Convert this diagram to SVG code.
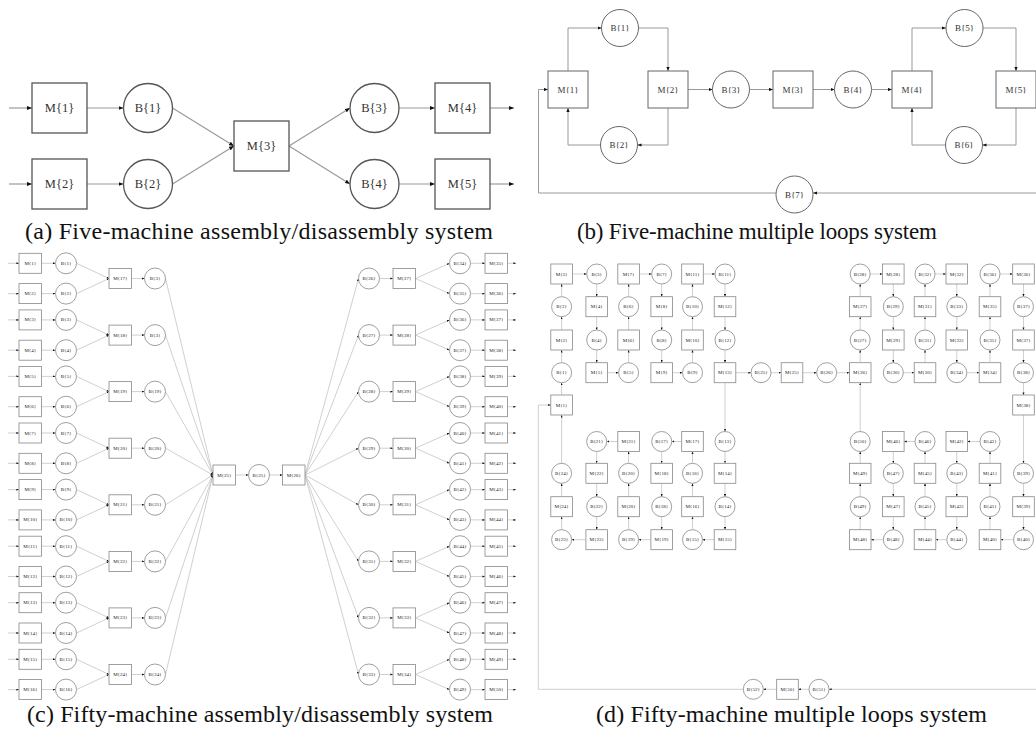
<svg xmlns="http://www.w3.org/2000/svg" width="1036" height="742" viewBox="0 0 1036 742">
<style>
text{font-family:"Liberation Serif","DejaVu Serif",serif;text-anchor:middle;dominant-baseline:central;fill:#333}
.ta{font-size:12.5px}
.tb{font-size:9px}
.tc{font-size:5px;fill:#222}
.cap{font-size:24px;fill:#111;text-anchor:start;dominant-baseline:alphabetic}
.capb{font-size:23px}
.ma{fill:#fff;stroke:#555;stroke-width:1.3}
.mb{fill:#fff;stroke:#666;stroke-width:1}
.mc{fill:#fff;stroke:#888;stroke-width:0.8}
.la{stroke:#9a9a9a;stroke-width:1.2;fill:none;marker-end:url(#ka)}
.lb{stroke:#999;stroke-width:1;fill:none;marker-end:url(#kb)}
.lc{stroke:#bbb;stroke-width:0.7;fill:none;marker-end:url(#kc)}
</style>
<defs>
<marker id="ka" viewBox="0 0 10 8" refX="10" refY="4" markerWidth="5" markerHeight="4" markerUnits="userSpaceOnUse" orient="auto"><path d="M0,0L10,4L0,8z" fill="#111"/></marker>
<marker id="kb" viewBox="0 0 10 8" refX="10" refY="4" markerWidth="4" markerHeight="3.2" markerUnits="userSpaceOnUse" orient="auto"><path d="M0,0L10,4L0,8z" fill="#111"/></marker>
<marker id="kc" viewBox="0 0 10 8" refX="10" refY="4" markerWidth="2.6" markerHeight="2.1" markerUnits="userSpaceOnUse" orient="auto"><path d="M0,0L10,4L0,8z" fill="#111"/></marker>
</defs>
<rect width="1036" height="742" fill="#fff"/>

<!-- ===== Panel (a) ===== -->
<g id="a-connectors">
<line class="la" x1="9" y1="108" x2="32" y2="108"/>
<line class="la" x1="9" y1="184" x2="32" y2="184"/>
<line class="la" x1="87" y1="108" x2="123.5" y2="108"/>
<line class="la" x1="87" y1="184" x2="123.5" y2="184"/>
<line class="la" x1="172.5" y1="108" x2="234" y2="146"/>
<line class="la" x1="172.5" y1="184" x2="234" y2="146"/>
<line class="la" x1="289" y1="146" x2="350" y2="108"/>
<line class="la" x1="289" y1="146" x2="350" y2="184"/>
<line class="la" x1="399" y1="108" x2="435" y2="108"/>
<line class="la" x1="399" y1="184" x2="435" y2="184"/>
<line class="la" x1="490" y1="108" x2="514" y2="108"/>
<line class="la" x1="490" y1="184" x2="514" y2="184"/>
</g>
<g id="a-M1" transform="translate(59.5,108)"><rect class="ma" x="-27.5" y="-25" width="55" height="50"/><text class="ta">M{1}</text></g>
<g id="a-M2" transform="translate(59.5,184)"><rect class="ma" x="-27.5" y="-25" width="55" height="50"/><text class="ta">M{2}</text></g>
<g id="a-B1" transform="translate(148,108)"><circle class="ma" r="24.5"/><text class="ta">B{1}</text></g>
<g id="a-B2" transform="translate(148,184)"><circle class="ma" r="24.5"/><text class="ta">B{2}</text></g>
<g id="a-M3" transform="translate(261.5,146)"><rect class="ma" x="-27.5" y="-25" width="55" height="50"/><text class="ta">M{3}</text></g>
<g id="a-B3" transform="translate(374.5,108)"><circle class="ma" r="24.5"/><text class="ta">B{3}</text></g>
<g id="a-B4" transform="translate(374.5,184)"><circle class="ma" r="24.5"/><text class="ta">B{4}</text></g>
<g id="a-M4" transform="translate(462.5,108)"><rect class="ma" x="-27.5" y="-25" width="55" height="50"/><text class="ta">M{4}</text></g>
<g id="a-M5" transform="translate(462.5,184)"><rect class="ma" x="-27.5" y="-25" width="55" height="50"/><text class="ta">M{5}</text></g>
<text class="cap" x="25" y="239" textLength="468" lengthAdjust="spacing">(a) Five-machine assembly/disassembly system</text>

<!-- ===== Panel (b) ===== -->
<g id="b-connectors">
<path class="lb" d="M568,71V28H601.5"/>
<path class="lb" d="M638.5,28H668V71"/>
<path class="lb" d="M668,108V145H637.5"/>
<path class="lb" d="M600.5,145H568V108"/>
<line class="lb" x1="688" y1="89.5" x2="712.5" y2="89.5"/>
<line class="lb" x1="749.5" y1="89.5" x2="773" y2="89.5"/>
<line class="lb" x1="813" y1="89.5" x2="834.5" y2="89.5"/>
<line class="lb" x1="871.5" y1="89.5" x2="892" y2="89.5"/>
<path class="lb" d="M912,71V28H946"/>
<path class="lb" d="M983,28H1016V71"/>
<path class="lb" d="M1016,108V145H982.5"/>
<path class="lb" d="M945.5,145H912V108"/>
<line class="lb" x1="1036" y1="193" x2="813" y2="193"/>
<path class="lb" d="M776,193H538.5V89.5H548"/>
</g>
<g id="b-M1" transform="translate(568,89.5)"><rect class="mb" x="-20" y="-18.5" width="40" height="37"/><text class="tb">M{1}</text></g>
<g id="b-B1" transform="translate(620,28)"><circle class="mb" r="18.5"/><text class="tb">B{1}</text></g>
<g id="b-B2" transform="translate(619,145)"><circle class="mb" r="18.5"/><text class="tb">B{2}</text></g>
<g id="b-M2" transform="translate(668,89.5)"><rect class="mb" x="-20" y="-18.5" width="40" height="37"/><text class="tb">M{2}</text></g>
<g id="b-B3" transform="translate(731,89.5)"><circle class="mb" r="18.5"/><text class="tb">B{3}</text></g>
<g id="b-M3" transform="translate(793,89.5)"><rect class="mb" x="-20" y="-18.5" width="40" height="37"/><text class="tb">M{3}</text></g>
<g id="b-B4" transform="translate(853,89.5)"><circle class="mb" r="18.5"/><text class="tb">B{4}</text></g>
<g id="b-M4" transform="translate(912,89.5)"><rect class="mb" x="-20" y="-18.5" width="40" height="37"/><text class="tb">M{4}</text></g>
<g id="b-B5" transform="translate(964.5,28)"><circle class="mb" r="18.5"/><text class="tb">B{5}</text></g>
<g id="b-B6" transform="translate(964,145)"><circle class="mb" r="18.5"/><text class="tb">B{6}</text></g>
<g id="b-M5" transform="translate(1016,89.5)"><rect class="mb" x="-20" y="-18.5" width="40" height="37"/><text class="tb">M{5}</text></g>
<g id="b-B7" transform="translate(794.5,194.5)"><circle class="mb" r="18.5"/><text class="tb">B{7}</text></g>
<text class="cap capb" x="577" y="239" textLength="360" lengthAdjust="spacing">(b) Five-machine multiple loops system</text>

<!-- ===== Panel (c) ===== -->
<g id="c-connectors">
<line class="lc" x1="8" y1="263.3" x2="19" y2="263.3"/><line class="lc" x1="8" y1="293.6" x2="19" y2="293.6"/>
<line class="lc" x1="41.5" y1="263.3" x2="55.5" y2="263.3"/><line class="lc" x1="41.5" y1="293.6" x2="55.5" y2="293.6"/>
<line class="lc" x1="76.5" y1="263.3" x2="109" y2="278.5"/><line class="lc" x1="76.5" y1="293.6" x2="109" y2="278.5"/>
<line class="lc" x1="131.5" y1="278.5" x2="144.5" y2="278.5"/><line class="lc" x1="165.5" y1="278.5" x2="213" y2="475"/>
<line class="lc" x1="305" y1="475" x2="358.5" y2="278.5"/><line class="lc" x1="379.5" y1="278.5" x2="393" y2="278.5"/>
<line class="lc" x1="415.5" y1="278.5" x2="449.5" y2="263.3"/><line class="lc" x1="415.5" y1="278.5" x2="449.5" y2="293.6"/>
<line class="lc" x1="470.5" y1="263.3" x2="485" y2="263.3"/><line class="lc" x1="470.5" y1="293.6" x2="485" y2="293.6"/>
<line class="lc" x1="507.5" y1="263.3" x2="516" y2="263.3"/><line class="lc" x1="507.5" y1="293.6" x2="516" y2="293.6"/>
<line class="lc" x1="8" y1="319.9" x2="19" y2="319.9"/><line class="lc" x1="8" y1="350.2" x2="19" y2="350.2"/>
<line class="lc" x1="41.5" y1="319.9" x2="55.5" y2="319.9"/><line class="lc" x1="41.5" y1="350.2" x2="55.5" y2="350.2"/>
<line class="lc" x1="76.5" y1="319.9" x2="109" y2="335.1"/><line class="lc" x1="76.5" y1="350.2" x2="109" y2="335.1"/>
<line class="lc" x1="131.5" y1="335.1" x2="144.5" y2="335.1"/><line class="lc" x1="165.5" y1="335.1" x2="213" y2="475"/>
<line class="lc" x1="305" y1="475" x2="358.5" y2="335.1"/><line class="lc" x1="379.5" y1="335.1" x2="393" y2="335.1"/>
<line class="lc" x1="415.5" y1="335.1" x2="449.5" y2="319.9"/><line class="lc" x1="415.5" y1="335.1" x2="449.5" y2="350.2"/>
<line class="lc" x1="470.5" y1="319.9" x2="485" y2="319.9"/><line class="lc" x1="470.5" y1="350.2" x2="485" y2="350.2"/>
<line class="lc" x1="507.5" y1="319.9" x2="516" y2="319.9"/><line class="lc" x1="507.5" y1="350.2" x2="516" y2="350.2"/>
<line class="lc" x1="8" y1="376.4" x2="19" y2="376.4"/><line class="lc" x1="8" y1="406.7" x2="19" y2="406.7"/>
<line class="lc" x1="41.5" y1="376.4" x2="55.5" y2="376.4"/><line class="lc" x1="41.5" y1="406.7" x2="55.5" y2="406.7"/>
<line class="lc" x1="76.5" y1="376.4" x2="109" y2="391.6"/><line class="lc" x1="76.5" y1="406.7" x2="109" y2="391.6"/>
<line class="lc" x1="131.5" y1="391.6" x2="144.5" y2="391.6"/><line class="lc" x1="165.5" y1="391.6" x2="213" y2="475"/>
<line class="lc" x1="305" y1="475" x2="358.5" y2="391.6"/><line class="lc" x1="379.5" y1="391.6" x2="393" y2="391.6"/>
<line class="lc" x1="415.5" y1="391.6" x2="449.5" y2="376.4"/><line class="lc" x1="415.5" y1="391.6" x2="449.5" y2="406.7"/>
<line class="lc" x1="470.5" y1="376.4" x2="485" y2="376.4"/><line class="lc" x1="470.5" y1="406.7" x2="485" y2="406.7"/>
<line class="lc" x1="507.5" y1="376.4" x2="516" y2="376.4"/><line class="lc" x1="507.5" y1="406.7" x2="516" y2="406.7"/>
<line class="lc" x1="8" y1="433" x2="19" y2="433"/><line class="lc" x1="8" y1="463.3" x2="19" y2="463.3"/>
<line class="lc" x1="41.5" y1="433" x2="55.5" y2="433"/><line class="lc" x1="41.5" y1="463.3" x2="55.5" y2="463.3"/>
<line class="lc" x1="76.5" y1="433" x2="109" y2="448.2"/><line class="lc" x1="76.5" y1="463.3" x2="109" y2="448.2"/>
<line class="lc" x1="131.5" y1="448.2" x2="144.5" y2="448.2"/><line class="lc" x1="165.5" y1="448.2" x2="213" y2="475"/>
<line class="lc" x1="305" y1="475" x2="358.5" y2="448.2"/><line class="lc" x1="379.5" y1="448.2" x2="393" y2="448.2"/>
<line class="lc" x1="415.5" y1="448.2" x2="449.5" y2="433"/><line class="lc" x1="415.5" y1="448.2" x2="449.5" y2="463.3"/>
<line class="lc" x1="470.5" y1="433" x2="485" y2="433"/><line class="lc" x1="470.5" y1="463.3" x2="485" y2="463.3"/>
<line class="lc" x1="507.5" y1="433" x2="516" y2="433"/><line class="lc" x1="507.5" y1="463.3" x2="516" y2="463.3"/>
<line class="lc" x1="8" y1="489.6" x2="19" y2="489.6"/><line class="lc" x1="8" y1="519.9" x2="19" y2="519.9"/>
<line class="lc" x1="41.5" y1="489.6" x2="55.5" y2="489.6"/><line class="lc" x1="41.5" y1="519.9" x2="55.5" y2="519.9"/>
<line class="lc" x1="76.5" y1="489.6" x2="109" y2="504.8"/><line class="lc" x1="76.5" y1="519.9" x2="109" y2="504.8"/>
<line class="lc" x1="131.5" y1="504.8" x2="144.5" y2="504.8"/><line class="lc" x1="165.5" y1="504.8" x2="213" y2="475"/>
<line class="lc" x1="305" y1="475" x2="358.5" y2="504.8"/><line class="lc" x1="379.5" y1="504.8" x2="393" y2="504.8"/>
<line class="lc" x1="415.5" y1="504.8" x2="449.5" y2="489.6"/><line class="lc" x1="415.5" y1="504.8" x2="449.5" y2="519.9"/>
<line class="lc" x1="470.5" y1="489.6" x2="485" y2="489.6"/><line class="lc" x1="470.5" y1="519.9" x2="485" y2="519.9"/>
<line class="lc" x1="507.5" y1="489.6" x2="516" y2="489.6"/><line class="lc" x1="507.5" y1="519.9" x2="516" y2="519.9"/>
<line class="lc" x1="8" y1="546.2" x2="19" y2="546.2"/><line class="lc" x1="8" y1="576.5" x2="19" y2="576.5"/>
<line class="lc" x1="41.5" y1="546.2" x2="55.5" y2="546.2"/><line class="lc" x1="41.5" y1="576.5" x2="55.5" y2="576.5"/>
<line class="lc" x1="76.5" y1="546.2" x2="109" y2="561.4"/><line class="lc" x1="76.5" y1="576.5" x2="109" y2="561.4"/>
<line class="lc" x1="131.5" y1="561.4" x2="144.5" y2="561.4"/><line class="lc" x1="165.5" y1="561.4" x2="213" y2="475"/>
<line class="lc" x1="305" y1="475" x2="358.5" y2="561.4"/><line class="lc" x1="379.5" y1="561.4" x2="393" y2="561.4"/>
<line class="lc" x1="415.5" y1="561.4" x2="449.5" y2="546.2"/><line class="lc" x1="415.5" y1="561.4" x2="449.5" y2="576.5"/>
<line class="lc" x1="470.5" y1="546.2" x2="485" y2="546.2"/><line class="lc" x1="470.5" y1="576.5" x2="485" y2="576.5"/>
<line class="lc" x1="507.5" y1="546.2" x2="516" y2="546.2"/><line class="lc" x1="507.5" y1="576.5" x2="516" y2="576.5"/>
<line class="lc" x1="8" y1="602.7" x2="19" y2="602.7"/><line class="lc" x1="8" y1="633" x2="19" y2="633"/>
<line class="lc" x1="41.5" y1="602.7" x2="55.5" y2="602.7"/><line class="lc" x1="41.5" y1="633" x2="55.5" y2="633"/>
<line class="lc" x1="76.5" y1="602.7" x2="109" y2="617.9"/><line class="lc" x1="76.5" y1="633" x2="109" y2="617.9"/>
<line class="lc" x1="131.5" y1="617.9" x2="144.5" y2="617.9"/><line class="lc" x1="165.5" y1="617.9" x2="213" y2="475"/>
<line class="lc" x1="305" y1="475" x2="358.5" y2="617.9"/><line class="lc" x1="379.5" y1="617.9" x2="393" y2="617.9"/>
<line class="lc" x1="415.5" y1="617.9" x2="449.5" y2="602.7"/><line class="lc" x1="415.5" y1="617.9" x2="449.5" y2="633"/>
<line class="lc" x1="470.5" y1="602.7" x2="485" y2="602.7"/><line class="lc" x1="470.5" y1="633" x2="485" y2="633"/>
<line class="lc" x1="507.5" y1="602.7" x2="516" y2="602.7"/><line class="lc" x1="507.5" y1="633" x2="516" y2="633"/>
<line class="lc" x1="8" y1="659.3" x2="19" y2="659.3"/><line class="lc" x1="8" y1="689.6" x2="19" y2="689.6"/>
<line class="lc" x1="41.5" y1="659.3" x2="55.5" y2="659.3"/><line class="lc" x1="41.5" y1="689.6" x2="55.5" y2="689.6"/>
<line class="lc" x1="76.5" y1="659.3" x2="109" y2="674.5"/><line class="lc" x1="76.5" y1="689.6" x2="109" y2="674.5"/>
<line class="lc" x1="131.5" y1="674.5" x2="144.5" y2="674.5"/><line class="lc" x1="165.5" y1="674.5" x2="213" y2="475"/>
<line class="lc" x1="305" y1="475" x2="358.5" y2="674.5"/><line class="lc" x1="379.5" y1="674.5" x2="393" y2="674.5"/>
<line class="lc" x1="415.5" y1="674.5" x2="449.5" y2="659.3"/><line class="lc" x1="415.5" y1="674.5" x2="449.5" y2="689.6"/>
<line class="lc" x1="470.5" y1="659.3" x2="485" y2="659.3"/><line class="lc" x1="470.5" y1="689.6" x2="485" y2="689.6"/>
<line class="lc" x1="507.5" y1="659.3" x2="516" y2="659.3"/><line class="lc" x1="507.5" y1="689.6" x2="516" y2="689.6"/>
<line class="lc" x1="235.5" y1="475" x2="248.5" y2="475"/>
<line class="lc" x1="269.5" y1="475" x2="282.5" y2="475"/>
</g>
<g id="c-M1" transform="translate(30.25,263.3)"><rect class="mc" x="-11.25" y="-10" width="22.5" height="20"/><text class="tc">M{1}</text></g>
<g id="c-M2" transform="translate(30.25,293.6)"><rect class="mc" x="-11.25" y="-10" width="22.5" height="20"/><text class="tc">M{2}</text></g>
<g id="c-M3" transform="translate(30.25,319.9)"><rect class="mc" x="-11.25" y="-10" width="22.5" height="20"/><text class="tc">M{3}</text></g>
<g id="c-M4" transform="translate(30.25,350.2)"><rect class="mc" x="-11.25" y="-10" width="22.5" height="20"/><text class="tc">M{4}</text></g>
<g id="c-M5" transform="translate(30.25,376.4)"><rect class="mc" x="-11.25" y="-10" width="22.5" height="20"/><text class="tc">M{5}</text></g>
<g id="c-M6" transform="translate(30.25,406.7)"><rect class="mc" x="-11.25" y="-10" width="22.5" height="20"/><text class="tc">M{6}</text></g>
<g id="c-M7" transform="translate(30.25,433)"><rect class="mc" x="-11.25" y="-10" width="22.5" height="20"/><text class="tc">M{7}</text></g>
<g id="c-M8" transform="translate(30.25,463.3)"><rect class="mc" x="-11.25" y="-10" width="22.5" height="20"/><text class="tc">M{8}</text></g>
<g id="c-M9" transform="translate(30.25,489.6)"><rect class="mc" x="-11.25" y="-10" width="22.5" height="20"/><text class="tc">M{9}</text></g>
<g id="c-M10" transform="translate(30.25,519.9)"><rect class="mc" x="-11.25" y="-10" width="22.5" height="20"/><text class="tc">M{10}</text></g>
<g id="c-M11" transform="translate(30.25,546.2)"><rect class="mc" x="-11.25" y="-10" width="22.5" height="20"/><text class="tc">M{11}</text></g>
<g id="c-M12" transform="translate(30.25,576.5)"><rect class="mc" x="-11.25" y="-10" width="22.5" height="20"/><text class="tc">M{12}</text></g>
<g id="c-M13" transform="translate(30.25,602.7)"><rect class="mc" x="-11.25" y="-10" width="22.5" height="20"/><text class="tc">M{13}</text></g>
<g id="c-M14" transform="translate(30.25,633)"><rect class="mc" x="-11.25" y="-10" width="22.5" height="20"/><text class="tc">M{14}</text></g>
<g id="c-M15" transform="translate(30.25,659.3)"><rect class="mc" x="-11.25" y="-10" width="22.5" height="20"/><text class="tc">M{15}</text></g>
<g id="c-M16" transform="translate(30.25,689.6)"><rect class="mc" x="-11.25" y="-10" width="22.5" height="20"/><text class="tc">M{16}</text></g>
<g id="c-B1" transform="translate(66,263.3)"><circle class="mc" r="10.5"/><text class="tc">B{1}</text></g>
<g id="c-B2" transform="translate(66,293.6)"><circle class="mc" r="10.5"/><text class="tc">B{2}</text></g>
<g id="c-B3" transform="translate(66,319.9)"><circle class="mc" r="10.5"/><text class="tc">B{3}</text></g>
<g id="c-B4" transform="translate(66,350.2)"><circle class="mc" r="10.5"/><text class="tc">B{4}</text></g>
<g id="c-B5" transform="translate(66,376.4)"><circle class="mc" r="10.5"/><text class="tc">B{5}</text></g>
<g id="c-B6" transform="translate(66,406.7)"><circle class="mc" r="10.5"/><text class="tc">B{6}</text></g>
<g id="c-B7" transform="translate(66,433)"><circle class="mc" r="10.5"/><text class="tc">B{7}</text></g>
<g id="c-B8" transform="translate(66,463.3)"><circle class="mc" r="10.5"/><text class="tc">B{8}</text></g>
<g id="c-B9" transform="translate(66,489.6)"><circle class="mc" r="10.5"/><text class="tc">B{9}</text></g>
<g id="c-B10" transform="translate(66,519.9)"><circle class="mc" r="10.5"/><text class="tc">B{10}</text></g>
<g id="c-B11" transform="translate(66,546.2)"><circle class="mc" r="10.5"/><text class="tc">B{11}</text></g>
<g id="c-B12" transform="translate(66,576.5)"><circle class="mc" r="10.5"/><text class="tc">B{12}</text></g>
<g id="c-B13" transform="translate(66,602.7)"><circle class="mc" r="10.5"/><text class="tc">B{13}</text></g>
<g id="c-B14" transform="translate(66,633)"><circle class="mc" r="10.5"/><text class="tc">B{14}</text></g>
<g id="c-B15" transform="translate(66,659.3)"><circle class="mc" r="10.5"/><text class="tc">B{15}</text></g>
<g id="c-B16" transform="translate(66,689.6)"><circle class="mc" r="10.5"/><text class="tc">B{16}</text></g>
<g id="c-M17" transform="translate(120.25,278.5)"><rect class="mc" x="-11.25" y="-10" width="22.5" height="20"/><text class="tc">M{17}</text></g>
<g id="c-M18" transform="translate(120.25,335.1)"><rect class="mc" x="-11.25" y="-10" width="22.5" height="20"/><text class="tc">M{18}</text></g>
<g id="c-M19" transform="translate(120.25,391.6)"><rect class="mc" x="-11.25" y="-10" width="22.5" height="20"/><text class="tc">M{19}</text></g>
<g id="c-M20" transform="translate(120.25,448.2)"><rect class="mc" x="-11.25" y="-10" width="22.5" height="20"/><text class="tc">M{20}</text></g>
<g id="c-M21" transform="translate(120.25,504.8)"><rect class="mc" x="-11.25" y="-10" width="22.5" height="20"/><text class="tc">M{21}</text></g>
<g id="c-M22" transform="translate(120.25,561.4)"><rect class="mc" x="-11.25" y="-10" width="22.5" height="20"/><text class="tc">M{22}</text></g>
<g id="c-M23" transform="translate(120.25,617.9)"><rect class="mc" x="-11.25" y="-10" width="22.5" height="20"/><text class="tc">M{23}</text></g>
<g id="c-M24" transform="translate(120.25,674.5)"><rect class="mc" x="-11.25" y="-10" width="22.5" height="20"/><text class="tc">M{24}</text></g>
<g id="c-B17" transform="translate(155,278.5)"><circle class="mc" r="10.5"/><text class="tc">B{3}</text></g>
<g id="c-B18" transform="translate(155,335.1)"><circle class="mc" r="10.5"/><text class="tc">B{3}</text></g>
<g id="c-B19" transform="translate(155,391.6)"><circle class="mc" r="10.5"/><text class="tc">B{19}</text></g>
<g id="c-B20" transform="translate(155,448.2)"><circle class="mc" r="10.5"/><text class="tc">B{20}</text></g>
<g id="c-B21" transform="translate(155,504.8)"><circle class="mc" r="10.5"/><text class="tc">B{21}</text></g>
<g id="c-B22" transform="translate(155,561.4)"><circle class="mc" r="10.5"/><text class="tc">B{22}</text></g>
<g id="c-B23" transform="translate(155,617.9)"><circle class="mc" r="10.5"/><text class="tc">B{23}</text></g>
<g id="c-B24" transform="translate(155,674.5)"><circle class="mc" r="10.5"/><text class="tc">B{24}</text></g>
<g id="c-M25" transform="translate(224.25,475)"><rect class="mc" x="-11.25" y="-10" width="22.5" height="20"/><text class="tc">M{25}</text></g>
<g id="c-B25" transform="translate(259,475)"><circle class="mc" r="10.5"/><text class="tc">B{25}</text></g>
<g id="c-M26" transform="translate(293.75,475)"><rect class="mc" x="-11.25" y="-10" width="22.5" height="20"/><text class="tc">M{26}</text></g>
<g id="c-B26" transform="translate(369,278.5)"><circle class="mc" r="10.5"/><text class="tc">B{26}</text></g>
<g id="c-B27" transform="translate(369,335.1)"><circle class="mc" r="10.5"/><text class="tc">B{27}</text></g>
<g id="c-B28" transform="translate(369,391.6)"><circle class="mc" r="10.5"/><text class="tc">B{28}</text></g>
<g id="c-B29" transform="translate(369,448.2)"><circle class="mc" r="10.5"/><text class="tc">B{29}</text></g>
<g id="c-B30" transform="translate(369,504.8)"><circle class="mc" r="10.5"/><text class="tc">B{30}</text></g>
<g id="c-B31" transform="translate(369,561.4)"><circle class="mc" r="10.5"/><text class="tc">B{31}</text></g>
<g id="c-B32" transform="translate(369,617.9)"><circle class="mc" r="10.5"/><text class="tc">B{32}</text></g>
<g id="c-B33" transform="translate(369,674.5)"><circle class="mc" r="10.5"/><text class="tc">B{33}</text></g>
<g id="c-M27" transform="translate(404.25,278.5)"><rect class="mc" x="-11.25" y="-10" width="22.5" height="20"/><text class="tc">M{27}</text></g>
<g id="c-M28" transform="translate(404.25,335.1)"><rect class="mc" x="-11.25" y="-10" width="22.5" height="20"/><text class="tc">M{28}</text></g>
<g id="c-M29" transform="translate(404.25,391.6)"><rect class="mc" x="-11.25" y="-10" width="22.5" height="20"/><text class="tc">M{29}</text></g>
<g id="c-M30" transform="translate(404.25,448.2)"><rect class="mc" x="-11.25" y="-10" width="22.5" height="20"/><text class="tc">M{30}</text></g>
<g id="c-M31" transform="translate(404.25,504.8)"><rect class="mc" x="-11.25" y="-10" width="22.5" height="20"/><text class="tc">M{31}</text></g>
<g id="c-M32" transform="translate(404.25,561.4)"><rect class="mc" x="-11.25" y="-10" width="22.5" height="20"/><text class="tc">M{32}</text></g>
<g id="c-M33" transform="translate(404.25,617.9)"><rect class="mc" x="-11.25" y="-10" width="22.5" height="20"/><text class="tc">M{33}</text></g>
<g id="c-M34" transform="translate(404.25,674.5)"><rect class="mc" x="-11.25" y="-10" width="22.5" height="20"/><text class="tc">M{34}</text></g>
<g id="c-B34" transform="translate(460,263.3)"><circle class="mc" r="10.5"/><text class="tc">B{34}</text></g>
<g id="c-B35" transform="translate(460,293.6)"><circle class="mc" r="10.5"/><text class="tc">B{35}</text></g>
<g id="c-B36" transform="translate(460,319.9)"><circle class="mc" r="10.5"/><text class="tc">B{36}</text></g>
<g id="c-B37" transform="translate(460,350.2)"><circle class="mc" r="10.5"/><text class="tc">B{37}</text></g>
<g id="c-B38" transform="translate(460,376.4)"><circle class="mc" r="10.5"/><text class="tc">B{38}</text></g>
<g id="c-B39" transform="translate(460,406.7)"><circle class="mc" r="10.5"/><text class="tc">B{39}</text></g>
<g id="c-B40" transform="translate(460,433)"><circle class="mc" r="10.5"/><text class="tc">B{40}</text></g>
<g id="c-B41" transform="translate(460,463.3)"><circle class="mc" r="10.5"/><text class="tc">B{41}</text></g>
<g id="c-B42" transform="translate(460,489.6)"><circle class="mc" r="10.5"/><text class="tc">B{42}</text></g>
<g id="c-B43" transform="translate(460,519.9)"><circle class="mc" r="10.5"/><text class="tc">B{43}</text></g>
<g id="c-B44" transform="translate(460,546.2)"><circle class="mc" r="10.5"/><text class="tc">B{44}</text></g>
<g id="c-B45" transform="translate(460,576.5)"><circle class="mc" r="10.5"/><text class="tc">B{45}</text></g>
<g id="c-B46" transform="translate(460,602.7)"><circle class="mc" r="10.5"/><text class="tc">B{46}</text></g>
<g id="c-B47" transform="translate(460,633)"><circle class="mc" r="10.5"/><text class="tc">B{47}</text></g>
<g id="c-B48" transform="translate(460,659.3)"><circle class="mc" r="10.5"/><text class="tc">B{48}</text></g>
<g id="c-B49" transform="translate(460,689.6)"><circle class="mc" r="10.5"/><text class="tc">B{49}</text></g>
<g id="c-M35" transform="translate(496.25,263.3)"><rect class="mc" x="-11.25" y="-10" width="22.5" height="20"/><text class="tc">M{35}</text></g>
<g id="c-M36" transform="translate(496.25,293.6)"><rect class="mc" x="-11.25" y="-10" width="22.5" height="20"/><text class="tc">M{36}</text></g>
<g id="c-M37" transform="translate(496.25,319.9)"><rect class="mc" x="-11.25" y="-10" width="22.5" height="20"/><text class="tc">M{37}</text></g>
<g id="c-M38" transform="translate(496.25,350.2)"><rect class="mc" x="-11.25" y="-10" width="22.5" height="20"/><text class="tc">M{38}</text></g>
<g id="c-M39" transform="translate(496.25,376.4)"><rect class="mc" x="-11.25" y="-10" width="22.5" height="20"/><text class="tc">M{39}</text></g>
<g id="c-M40" transform="translate(496.25,406.7)"><rect class="mc" x="-11.25" y="-10" width="22.5" height="20"/><text class="tc">M{40}</text></g>
<g id="c-M41" transform="translate(496.25,433)"><rect class="mc" x="-11.25" y="-10" width="22.5" height="20"/><text class="tc">M{41}</text></g>
<g id="c-M42" transform="translate(496.25,463.3)"><rect class="mc" x="-11.25" y="-10" width="22.5" height="20"/><text class="tc">M{42}</text></g>
<g id="c-M43" transform="translate(496.25,489.6)"><rect class="mc" x="-11.25" y="-10" width="22.5" height="20"/><text class="tc">M{43}</text></g>
<g id="c-M44" transform="translate(496.25,519.9)"><rect class="mc" x="-11.25" y="-10" width="22.5" height="20"/><text class="tc">M{44}</text></g>
<g id="c-M45" transform="translate(496.25,546.2)"><rect class="mc" x="-11.25" y="-10" width="22.5" height="20"/><text class="tc">M{45}</text></g>
<g id="c-M46" transform="translate(496.25,576.5)"><rect class="mc" x="-11.25" y="-10" width="22.5" height="20"/><text class="tc">M{46}</text></g>
<g id="c-M47" transform="translate(496.25,602.7)"><rect class="mc" x="-11.25" y="-10" width="22.5" height="20"/><text class="tc">M{47}</text></g>
<g id="c-M48" transform="translate(496.25,633)"><rect class="mc" x="-11.25" y="-10" width="22.5" height="20"/><text class="tc">M{48}</text></g>
<g id="c-M49" transform="translate(496.25,659.3)"><rect class="mc" x="-11.25" y="-10" width="22.5" height="20"/><text class="tc">M{49}</text></g>
<g id="c-M50" transform="translate(496.25,689.6)"><rect class="mc" x="-11.25" y="-10" width="22.5" height="20"/><text class="tc">M{50}</text></g>
<text class="cap" x="27" y="722" textLength="466" lengthAdjust="spacing">(c) Fifty-machine assembly/disassembly system</text>

<!-- ===== Panel (d) ===== -->
<g id="d-connectors">
<line class="lc" x1="561.6" y1="395" x2="561.6" y2="382.7"/>
<line class="lc" x1="561.6" y1="362.7" x2="561.6" y2="350"/>
<line class="lc" x1="561.6" y1="330" x2="561.6" y2="316.7"/>
<line class="lc" x1="561.6" y1="296.7" x2="561.6" y2="284"/>
<line class="lc" x1="572.4" y1="274" x2="586.7" y2="274"/>
<line class="lc" x1="596.7" y1="284" x2="596.7" y2="296.7"/>
<line class="lc" x1="596.7" y1="316.7" x2="596.7" y2="330"/>
<line class="lc" x1="596.7" y1="350" x2="596.7" y2="362.7"/>
<line class="lc" x1="607.5" y1="372.7" x2="618.6" y2="372.7"/>
<line class="lc" x1="628.6" y1="362.7" x2="628.6" y2="350"/>
<line class="lc" x1="628.6" y1="330" x2="628.6" y2="316.7"/>
<line class="lc" x1="628.6" y1="296.7" x2="628.6" y2="284"/>
<line class="lc" x1="639.4" y1="274" x2="651.7" y2="274"/>
<line class="lc" x1="661.7" y1="284" x2="661.7" y2="296.7"/>
<line class="lc" x1="661.7" y1="316.7" x2="661.7" y2="330"/>
<line class="lc" x1="661.7" y1="350" x2="661.7" y2="362.7"/>
<line class="lc" x1="672.5" y1="372.7" x2="682.5" y2="372.7"/>
<line class="lc" x1="692.5" y1="362.7" x2="692.5" y2="350"/>
<line class="lc" x1="692.5" y1="330" x2="692.5" y2="316.7"/>
<line class="lc" x1="692.5" y1="296.7" x2="692.5" y2="284"/>
<line class="lc" x1="703.3" y1="274" x2="715" y2="274"/>
<line class="lc" x1="725" y1="284" x2="725" y2="296.7"/>
<line class="lc" x1="725" y1="316.7" x2="725" y2="330"/>
<line class="lc" x1="725" y1="350" x2="725" y2="362.7"/>
<line class="lc" x1="735.8" y1="372.7" x2="751" y2="372.7"/>
<line class="lc" x1="771" y1="372.7" x2="781.2" y2="372.7"/>
<line class="lc" x1="802.8" y1="372.7" x2="816.7" y2="372.7"/>
<line class="lc" x1="836.7" y1="372.7" x2="849.4" y2="372.7"/>
<line class="lc" x1="725" y1="382.7" x2="725" y2="431.5"/>
<line class="lc" x1="725" y1="451.5" x2="725" y2="463.3"/>
<line class="lc" x1="725" y1="483.3" x2="725" y2="496.7"/>
<line class="lc" x1="725" y1="516.7" x2="725" y2="529.7"/>
<line class="lc" x1="714.2" y1="539.7" x2="702.5" y2="539.7"/>
<line class="lc" x1="692.5" y1="529.7" x2="692.5" y2="516.7"/>
<line class="lc" x1="692.5" y1="496.7" x2="692.5" y2="483.3"/>
<line class="lc" x1="692.5" y1="463.3" x2="692.5" y2="451.5"/>
<line class="lc" x1="681.7" y1="441.5" x2="671.7" y2="441.5"/>
<line class="lc" x1="661.7" y1="451.5" x2="661.7" y2="463.3"/>
<line class="lc" x1="661.7" y1="483.3" x2="661.7" y2="496.7"/>
<line class="lc" x1="661.7" y1="516.7" x2="661.7" y2="529.7"/>
<line class="lc" x1="650.9" y1="539.7" x2="638.6" y2="539.7"/>
<line class="lc" x1="628.6" y1="529.7" x2="628.6" y2="516.7"/>
<line class="lc" x1="628.6" y1="496.7" x2="628.6" y2="483.3"/>
<line class="lc" x1="628.6" y1="463.3" x2="628.6" y2="451.5"/>
<line class="lc" x1="617.8" y1="441.5" x2="606.7" y2="441.5"/>
<line class="lc" x1="596.7" y1="451.5" x2="596.7" y2="463.3"/>
<line class="lc" x1="596.7" y1="483.3" x2="596.7" y2="496.7"/>
<line class="lc" x1="596.7" y1="516.7" x2="596.7" y2="529.7"/>
<line class="lc" x1="585.9" y1="539.7" x2="571.6" y2="539.7"/>
<line class="lc" x1="561.6" y1="529.7" x2="561.6" y2="516.7"/>
<line class="lc" x1="561.6" y1="496.7" x2="561.6" y2="483.3"/>
<line class="lc" x1="561.6" y1="463.3" x2="561.6" y2="415"/>
<line class="lc" x1="1036" y1="689.3" x2="829" y2="689.3"/>
<line class="lc" x1="809" y1="689.3" x2="798.3" y2="689.3"/>
<line class="lc" x1="776.7" y1="689.3" x2="763.3" y2="689.3"/>
<path class="lc" d="M743.3,689.3H538.3V405H550.8"/>
<line class="lc" x1="860.2" y1="362.7" x2="860.2" y2="350"/>
<line class="lc" x1="860.2" y1="330" x2="860.2" y2="316.7"/>
<line class="lc" x1="860.2" y1="296.7" x2="860.2" y2="284"/>
<line class="lc" x1="870.2" y1="274" x2="882.5" y2="274"/>
<line class="lc" x1="893.3" y1="284" x2="893.3" y2="296.7"/>
<line class="lc" x1="893.3" y1="316.7" x2="893.3" y2="330"/>
<line class="lc" x1="893.3" y1="350" x2="893.3" y2="362.7"/>
<line class="lc" x1="903.3" y1="372.7" x2="914.2" y2="372.7"/>
<line class="lc" x1="925" y1="362.7" x2="925" y2="350"/>
<line class="lc" x1="925" y1="330" x2="925" y2="316.7"/>
<line class="lc" x1="925" y1="296.7" x2="925" y2="284"/>
<line class="lc" x1="935" y1="274" x2="946" y2="274"/>
<line class="lc" x1="956.8" y1="284" x2="956.8" y2="296.7"/>
<line class="lc" x1="956.8" y1="316.7" x2="956.8" y2="330"/>
<line class="lc" x1="956.8" y1="350" x2="956.8" y2="362.7"/>
<line class="lc" x1="966.8" y1="372.7" x2="979.2" y2="372.7"/>
<line class="lc" x1="990" y1="362.7" x2="990" y2="350"/>
<line class="lc" x1="990" y1="330" x2="990" y2="316.7"/>
<line class="lc" x1="990" y1="296.7" x2="990" y2="284"/>
<line class="lc" x1="1000" y1="274" x2="1012.7" y2="274"/>
<line class="lc" x1="1023.5" y1="284" x2="1023.5" y2="296.7"/>
<line class="lc" x1="1023.5" y1="316.7" x2="1023.5" y2="330"/>
<line class="lc" x1="1023.5" y1="350" x2="1023.5" y2="362.7"/>
<line class="lc" x1="1023.5" y1="382.7" x2="1023.5" y2="395"/>
<line class="lc" x1="1023.5" y1="415" x2="1023.5" y2="463.3"/>
<line class="lc" x1="1023.5" y1="483.3" x2="1023.5" y2="496.7"/>
<line class="lc" x1="1023.5" y1="516.7" x2="1023.5" y2="529.7"/>
<line class="lc" x1="1013.5" y1="539.7" x2="1000.8" y2="539.7"/>
<line class="lc" x1="990" y1="529.7" x2="990" y2="516.7"/>
<line class="lc" x1="990" y1="496.7" x2="990" y2="483.3"/>
<line class="lc" x1="990" y1="463.3" x2="990" y2="451.5"/>
<line class="lc" x1="980" y1="441.5" x2="967.6" y2="441.5"/>
<line class="lc" x1="956.8" y1="451.5" x2="956.8" y2="463.3"/>
<line class="lc" x1="956.8" y1="483.3" x2="956.8" y2="496.7"/>
<line class="lc" x1="956.8" y1="516.7" x2="956.8" y2="529.7"/>
<line class="lc" x1="946.8" y1="539.7" x2="935.8" y2="539.7"/>
<line class="lc" x1="925" y1="529.7" x2="925" y2="516.7"/>
<line class="lc" x1="925" y1="496.7" x2="925" y2="483.3"/>
<line class="lc" x1="925" y1="463.3" x2="925" y2="451.5"/>
<line class="lc" x1="915" y1="441.5" x2="904.1" y2="441.5"/>
<line class="lc" x1="893.3" y1="451.5" x2="893.3" y2="463.3"/>
<line class="lc" x1="893.3" y1="483.3" x2="893.3" y2="496.7"/>
<line class="lc" x1="893.3" y1="516.7" x2="893.3" y2="529.7"/>
<line class="lc" x1="883.3" y1="539.7" x2="871" y2="539.7"/>
<line class="lc" x1="860.2" y1="529.7" x2="860.2" y2="516.7"/>
<line class="lc" x1="860.2" y1="496.7" x2="860.2" y2="483.3"/>
<line class="lc" x1="860.2" y1="463.3" x2="860.2" y2="451.5"/>
<line class="lc" x1="860.2" y1="431.5" x2="860.2" y2="382.7"/>
</g>
<g id="d-M1" transform="translate(561.6,405)"><rect class="mc" x="-10.8" y="-10" width="21.6" height="20"/><text class="tc">M{1}</text></g>
<g id="d-B1" transform="translate(561.6,372.7)"><circle class="mc" r="10"/><text class="tc">B{1}</text></g>
<g id="d-M2" transform="translate(561.6,340)"><rect class="mc" x="-10.8" y="-10" width="21.6" height="20"/><text class="tc">M{2}</text></g>
<g id="d-B2" transform="translate(561.6,306.7)"><circle class="mc" r="10"/><text class="tc">B{2}</text></g>
<g id="d-M3" transform="translate(561.6,274)"><rect class="mc" x="-10.8" y="-10" width="21.6" height="20"/><text class="tc">M{3}</text></g>
<g id="d-B3" transform="translate(596.7,274)"><circle class="mc" r="10"/><text class="tc">B{3}</text></g>
<g id="d-M4" transform="translate(596.7,306.7)"><rect class="mc" x="-10.8" y="-10" width="21.6" height="20"/><text class="tc">M{4}</text></g>
<g id="d-B4" transform="translate(596.7,340)"><circle class="mc" r="10"/><text class="tc">B{4}</text></g>
<g id="d-M5" transform="translate(596.7,372.7)"><rect class="mc" x="-10.8" y="-10" width="21.6" height="20"/><text class="tc">M{5}</text></g>
<g id="d-B5" transform="translate(628.6,372.7)"><circle class="mc" r="10"/><text class="tc">B{5}</text></g>
<g id="d-M6" transform="translate(628.6,340)"><rect class="mc" x="-10.8" y="-10" width="21.6" height="20"/><text class="tc">M{6}</text></g>
<g id="d-B6" transform="translate(628.6,306.7)"><circle class="mc" r="10"/><text class="tc">B{6}</text></g>
<g id="d-M7" transform="translate(628.6,274)"><rect class="mc" x="-10.8" y="-10" width="21.6" height="20"/><text class="tc">M{7}</text></g>
<g id="d-B7" transform="translate(661.7,274)"><circle class="mc" r="10"/><text class="tc">B{7}</text></g>
<g id="d-M8" transform="translate(661.7,306.7)"><rect class="mc" x="-10.8" y="-10" width="21.6" height="20"/><text class="tc">M{8}</text></g>
<g id="d-B8" transform="translate(661.7,340)"><circle class="mc" r="10"/><text class="tc">B{8}</text></g>
<g id="d-M9" transform="translate(661.7,372.7)"><rect class="mc" x="-10.8" y="-10" width="21.6" height="20"/><text class="tc">M{9}</text></g>
<g id="d-B9" transform="translate(692.5,372.7)"><circle class="mc" r="10"/><text class="tc">B{9}</text></g>
<g id="d-M10" transform="translate(692.5,340)"><rect class="mc" x="-10.8" y="-10" width="21.6" height="20"/><text class="tc">M{10}</text></g>
<g id="d-B10" transform="translate(692.5,306.7)"><circle class="mc" r="10"/><text class="tc">B{10}</text></g>
<g id="d-M11" transform="translate(692.5,274)"><rect class="mc" x="-10.8" y="-10" width="21.6" height="20"/><text class="tc">M{11}</text></g>
<g id="d-B11" transform="translate(725,274)"><circle class="mc" r="10"/><text class="tc">B{11}</text></g>
<g id="d-M12" transform="translate(725,306.7)"><rect class="mc" x="-10.8" y="-10" width="21.6" height="20"/><text class="tc">M{12}</text></g>
<g id="d-B12" transform="translate(725,340)"><circle class="mc" r="10"/><text class="tc">B{12}</text></g>
<g id="d-M13" transform="translate(725,372.7)"><rect class="mc" x="-10.8" y="-10" width="21.6" height="20"/><text class="tc">M{13}</text></g>
<g id="d-B25" transform="translate(761,372.7)"><circle class="mc" r="10"/><text class="tc">B{25}</text></g>
<g id="d-M25" transform="translate(792,372.7)"><rect class="mc" x="-10.8" y="-10" width="21.6" height="20"/><text class="tc">M{25}</text></g>
<g id="d-B26" transform="translate(826.7,372.7)"><circle class="mc" r="10"/><text class="tc">B{26}</text></g>
<g id="d-B13" transform="translate(725,441.5)"><circle class="mc" r="10"/><text class="tc">B{13}</text></g>
<g id="d-M14" transform="translate(725,473.3)"><rect class="mc" x="-10.8" y="-10" width="21.6" height="20"/><text class="tc">M{14}</text></g>
<g id="d-B14" transform="translate(725,506.7)"><circle class="mc" r="10"/><text class="tc">B{14}</text></g>
<g id="d-M15" transform="translate(725,539.7)"><rect class="mc" x="-10.8" y="-10" width="21.6" height="20"/><text class="tc">M{15}</text></g>
<g id="d-B15" transform="translate(692.5,539.7)"><circle class="mc" r="10"/><text class="tc">B{15}</text></g>
<g id="d-M16" transform="translate(692.5,506.7)"><rect class="mc" x="-10.8" y="-10" width="21.6" height="20"/><text class="tc">M{16}</text></g>
<g id="d-B16" transform="translate(692.5,473.3)"><circle class="mc" r="10"/><text class="tc">B{16}</text></g>
<g id="d-M17" transform="translate(692.5,441.5)"><rect class="mc" x="-10.8" y="-10" width="21.6" height="20"/><text class="tc">M{17}</text></g>
<g id="d-B17" transform="translate(661.7,441.5)"><circle class="mc" r="10"/><text class="tc">B{17}</text></g>
<g id="d-M18" transform="translate(661.7,473.3)"><rect class="mc" x="-10.8" y="-10" width="21.6" height="20"/><text class="tc">M{18}</text></g>
<g id="d-B18" transform="translate(661.7,506.7)"><circle class="mc" r="10"/><text class="tc">B{18}</text></g>
<g id="d-M19" transform="translate(661.7,539.7)"><rect class="mc" x="-10.8" y="-10" width="21.6" height="20"/><text class="tc">M{19}</text></g>
<g id="d-B19" transform="translate(628.6,539.7)"><circle class="mc" r="10"/><text class="tc">B{19}</text></g>
<g id="d-M20" transform="translate(628.6,506.7)"><rect class="mc" x="-10.8" y="-10" width="21.6" height="20"/><text class="tc">M{20}</text></g>
<g id="d-B20" transform="translate(628.6,473.3)"><circle class="mc" r="10"/><text class="tc">B{20}</text></g>
<g id="d-M21" transform="translate(628.6,441.5)"><rect class="mc" x="-10.8" y="-10" width="21.6" height="20"/><text class="tc">M{21}</text></g>
<g id="d-B21" transform="translate(596.7,441.5)"><circle class="mc" r="10"/><text class="tc">B{21}</text></g>
<g id="d-M22" transform="translate(596.7,473.3)"><rect class="mc" x="-10.8" y="-10" width="21.6" height="20"/><text class="tc">M{22}</text></g>
<g id="d-B22" transform="translate(596.7,506.7)"><circle class="mc" r="10"/><text class="tc">B{22}</text></g>
<g id="d-M23" transform="translate(596.7,539.7)"><rect class="mc" x="-10.8" y="-10" width="21.6" height="20"/><text class="tc">M{23}</text></g>
<g id="d-B23" transform="translate(561.6,539.7)"><circle class="mc" r="10"/><text class="tc">B{23}</text></g>
<g id="d-M24" transform="translate(561.6,506.7)"><rect class="mc" x="-10.8" y="-10" width="21.6" height="20"/><text class="tc">M{24}</text></g>
<g id="d-B24" transform="translate(561.6,473.3)"><circle class="mc" r="10"/><text class="tc">B{24}</text></g>
<g id="d-M26" transform="translate(860.2,372.7)"><rect class="mc" x="-10.8" y="-10" width="21.6" height="20"/><text class="tc">M{26}</text></g>
<g id="d-B27" transform="translate(860.2,340)"><circle class="mc" r="10"/><text class="tc">B{27}</text></g>
<g id="d-M27" transform="translate(860.2,306.7)"><rect class="mc" x="-10.8" y="-10" width="21.6" height="20"/><text class="tc">M{27}</text></g>
<g id="d-B28" transform="translate(860.2,274)"><circle class="mc" r="10"/><text class="tc">B{28}</text></g>
<g id="d-M28" transform="translate(893.3,274)"><rect class="mc" x="-10.8" y="-10" width="21.6" height="20"/><text class="tc">M{28}</text></g>
<g id="d-B29" transform="translate(893.3,306.7)"><circle class="mc" r="10"/><text class="tc">B{29}</text></g>
<g id="d-M29" transform="translate(893.3,340)"><rect class="mc" x="-10.8" y="-10" width="21.6" height="20"/><text class="tc">M{29}</text></g>
<g id="d-B30" transform="translate(893.3,372.7)"><circle class="mc" r="10"/><text class="tc">B{30}</text></g>
<g id="d-M30" transform="translate(925,372.7)"><rect class="mc" x="-10.8" y="-10" width="21.6" height="20"/><text class="tc">M{30}</text></g>
<g id="d-B31" transform="translate(925,340)"><circle class="mc" r="10"/><text class="tc">B{31}</text></g>
<g id="d-M31" transform="translate(925,306.7)"><rect class="mc" x="-10.8" y="-10" width="21.6" height="20"/><text class="tc">M{31}</text></g>
<g id="d-B32" transform="translate(925,274)"><circle class="mc" r="10"/><text class="tc">B{32}</text></g>
<g id="d-M32" transform="translate(956.8,274)"><rect class="mc" x="-10.8" y="-10" width="21.6" height="20"/><text class="tc">M{32}</text></g>
<g id="d-B33" transform="translate(956.8,306.7)"><circle class="mc" r="10"/><text class="tc">B{33}</text></g>
<g id="d-M33" transform="translate(956.8,340)"><rect class="mc" x="-10.8" y="-10" width="21.6" height="20"/><text class="tc">M{33}</text></g>
<g id="d-B34" transform="translate(956.8,372.7)"><circle class="mc" r="10"/><text class="tc">B{34}</text></g>
<g id="d-M34" transform="translate(990,372.7)"><rect class="mc" x="-10.8" y="-10" width="21.6" height="20"/><text class="tc">M{34}</text></g>
<g id="d-B35" transform="translate(990,340)"><circle class="mc" r="10"/><text class="tc">B{35}</text></g>
<g id="d-M35" transform="translate(990,306.7)"><rect class="mc" x="-10.8" y="-10" width="21.6" height="20"/><text class="tc">M{35}</text></g>
<g id="d-B36" transform="translate(990,274)"><circle class="mc" r="10"/><text class="tc">B{36}</text></g>
<g id="d-M36" transform="translate(1023.5,274)"><rect class="mc" x="-10.8" y="-10" width="21.6" height="20"/><text class="tc">M{36}</text></g>
<g id="d-B37" transform="translate(1023.5,306.7)"><circle class="mc" r="10"/><text class="tc">B{37}</text></g>
<g id="d-M37" transform="translate(1023.5,340)"><rect class="mc" x="-10.8" y="-10" width="21.6" height="20"/><text class="tc">M{37}</text></g>
<g id="d-B38" transform="translate(1023.5,372.7)"><circle class="mc" r="10"/><text class="tc">B{38}</text></g>
<g id="d-M38" transform="translate(1023.5,405)"><rect class="mc" x="-10.8" y="-10" width="21.6" height="20"/><text class="tc">M{38}</text></g>
<g id="d-B39" transform="translate(1023.5,473.3)"><circle class="mc" r="10"/><text class="tc">B{39}</text></g>
<g id="d-M39" transform="translate(1023.5,506.7)"><rect class="mc" x="-10.8" y="-10" width="21.6" height="20"/><text class="tc">M{39}</text></g>
<g id="d-B40" transform="translate(1023.5,539.7)"><circle class="mc" r="10"/><text class="tc">B{40}</text></g>
<g id="d-M40" transform="translate(990,539.7)"><rect class="mc" x="-10.8" y="-10" width="21.6" height="20"/><text class="tc">M{40}</text></g>
<g id="d-B41" transform="translate(990,506.7)"><circle class="mc" r="10"/><text class="tc">B{41}</text></g>
<g id="d-M41" transform="translate(990,473.3)"><rect class="mc" x="-10.8" y="-10" width="21.6" height="20"/><text class="tc">M{41}</text></g>
<g id="d-B42" transform="translate(990,441.5)"><circle class="mc" r="10"/><text class="tc">B{42}</text></g>
<g id="d-M42" transform="translate(956.8,441.5)"><rect class="mc" x="-10.8" y="-10" width="21.6" height="20"/><text class="tc">M{42}</text></g>
<g id="d-B43" transform="translate(956.8,473.3)"><circle class="mc" r="10"/><text class="tc">B{43}</text></g>
<g id="d-M43" transform="translate(956.8,506.7)"><rect class="mc" x="-10.8" y="-10" width="21.6" height="20"/><text class="tc">M{43}</text></g>
<g id="d-B44" transform="translate(956.8,539.7)"><circle class="mc" r="10"/><text class="tc">B{44}</text></g>
<g id="d-M44" transform="translate(925,539.7)"><rect class="mc" x="-10.8" y="-10" width="21.6" height="20"/><text class="tc">M{44}</text></g>
<g id="d-B45" transform="translate(925,506.7)"><circle class="mc" r="10"/><text class="tc">B{45}</text></g>
<g id="d-M45" transform="translate(925,473.3)"><rect class="mc" x="-10.8" y="-10" width="21.6" height="20"/><text class="tc">M{45}</text></g>
<g id="d-B46" transform="translate(925,441.5)"><circle class="mc" r="10"/><text class="tc">B{46}</text></g>
<g id="d-M46" transform="translate(893.3,441.5)"><rect class="mc" x="-10.8" y="-10" width="21.6" height="20"/><text class="tc">M{46}</text></g>
<g id="d-B47" transform="translate(893.3,473.3)"><circle class="mc" r="10"/><text class="tc">B{47}</text></g>
<g id="d-M47" transform="translate(893.3,506.7)"><rect class="mc" x="-10.8" y="-10" width="21.6" height="20"/><text class="tc">M{47}</text></g>
<g id="d-B48" transform="translate(893.3,539.7)"><circle class="mc" r="10"/><text class="tc">B{48}</text></g>
<g id="d-M48" transform="translate(860.2,539.7)"><rect class="mc" x="-10.8" y="-10" width="21.6" height="20"/><text class="tc">M{48}</text></g>
<g id="d-B49" transform="translate(860.2,506.7)"><circle class="mc" r="10"/><text class="tc">B{49}</text></g>
<g id="d-M49" transform="translate(860.2,473.3)"><rect class="mc" x="-10.8" y="-10" width="21.6" height="20"/><text class="tc">M{49}</text></g>
<g id="d-B50" transform="translate(860.2,441.5)"><circle class="mc" r="10"/><text class="tc">B{50}</text></g>
<g id="d-B51" transform="translate(819,689.3)"><circle class="mc" r="10"/><text class="tc">B{51}</text></g>
<g id="d-M50" transform="translate(787.5,689.3)"><rect class="mc" x="-10.8" y="-10" width="21.6" height="20"/><text class="tc">M{50}</text></g>
<g id="d-B52" transform="translate(753.3,689.3)"><circle class="mc" r="10"/><text class="tc">B{52}</text></g>
<text class="cap" x="596" y="722" textLength="391" lengthAdjust="spacing">(d) Fifty-machine multiple loops system</text>
</svg>
